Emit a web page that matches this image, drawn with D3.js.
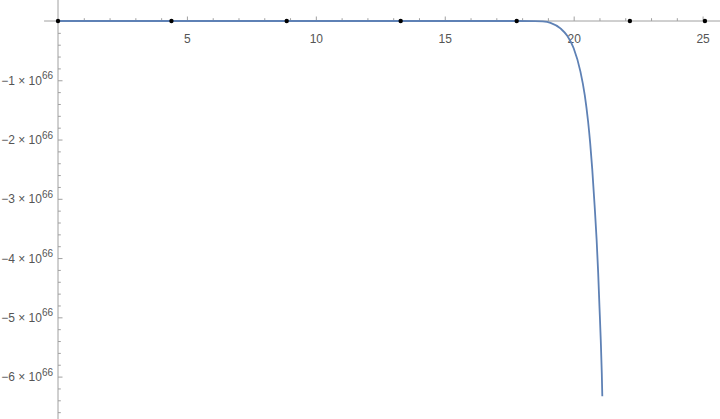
<!DOCTYPE html>
<html>
  <head>
    <meta charset="utf-8">
    <title>Plot</title>
    <script src="https://cdn.jsdelivr.net/npm/d3@7"></script>
    <style>
      body { margin: 0; background: #fff; }
      #chart { display: block; }
      .axis line, .axis path { stroke: #a0a0a0; }
      .label { font-family: "Liberation Sans", Arial, sans-serif; font-size: 12px; fill: #555; }
    </style>
  </head>

  <body>
    <svg id="chart" width="720" height="419">
      <g id="axisGroup">
        <g id="xMinorGroup" class="axis"></g>
        <g id="xAxisGroup" class="axis"></g>
        <g id="yMinorGroup" class="axis"></g>
        <g id="yAxisGroup" class="axis"></g>
      </g>
      <g id="chartGroup"></g>
      <g id="dotGroup"></g>
    </svg>

    <script>
      // data (y values in units of 10^66)
      const curveX = [0, 17.5, 18.5, 18.8, 19.1, 19.5, 19.75, 20.0, 20.26, 20.43, 20.56, 20.64, 20.72, 20.81, 20.89, 20.95, 21.0, 21.05, 21.09, 21.11];
      const curveY = [0, 0, -0.003, -0.008, -0.03, -0.13, -0.25, -0.46, -0.85, -1.25, -1.70, -2.06, -2.5, -3.1, -3.69, -4.25, -4.82, -5.38, -5.94, -6.33];
      const dotX = [0, 4.4, 8.87, 13.29, 17.79, 22.18, 25.09];
      const dotY = [0, 0, 0, 0, 0, 0, 0];
      const xTicks = [5, 10, 15, 20, 25];
      const xMinorTicks = d3.range(1, 26).filter(function(d) { return d % 5 !== 0; });
      const yTicks = [-1, -2, -3, -4, -5, -6];
      const yMinorTicks = d3.range(1, 34).filter(function(d) { return d % 5 !== 0; }).map(function(d) { return -d / 5; });
      const yExponent = "66";

      // page elements
      chart = d3.select("#chart");
      chartGroup = d3.select("#chartGroup");
      dotGroup = d3.select("#dotGroup");
      width = 720;
      height = 419;

      // scales
      x = d3.scaleLinear().domain([0, 25]).range([58, 702.6]);
      y = d3.scaleLinear().domain([0, -6]).range([21, 376.6]);

      // axis lines (axes cross at origin)
      d3.select("#axisGroup").append("line")
        .attr("x1", x(-0.54)).attr("x2", width)
        .attr("y1", y(0)).attr("y2", y(0))
        .attr("stroke", "#a0a0a0");
      d3.select("#axisGroup").append("line")
        .attr("x1", x(0)).attr("x2", x(0))
        .attr("y1", 0).attr("y2", height)
        .attr("stroke", "#a0a0a0");

      // x ticks point up, labels below
      xAxis = d3.axisBottom(x)
        .tickValues(xTicks)
        .tickSizeInner(-4.5)
        .tickSizeOuter(0)
        .tickPadding(13);
      xMinor = d3.axisBottom(x)
        .tickValues(xMinorTicks)
        .tickSizeInner(-2.8)
        .tickSizeOuter(0)
        .tickFormat("");
      d3.select("#xAxisGroup")
        .attr("transform", "translate(0, " + y(0) + ")")
        .call(xAxis)
        .call(function(g) { g.select(".domain").remove(); })
        .selectAll("text")
          .attr("class", "label")
          .attr("fill", null)
          .attr("font-size", null)
          .attr("font-family", null);
      d3.select("#xMinorGroup")
        .attr("transform", "translate(0, " + y(0) + ")")
        .call(xMinor)
        .call(function(g) { g.select(".domain").remove(); });

      // y ticks point right, labels on left
      yAxis = d3.axisRight(y)
        .tickValues(yTicks)
        .tickSizeInner(4.5)
        .tickSizeOuter(0)
        .tickFormat("");
      yMinor = d3.axisRight(y)
        .tickValues(yMinorTicks)
        .tickSizeInner(2.8)
        .tickSizeOuter(0)
        .tickFormat("");
      d3.select("#yAxisGroup")
        .attr("transform", "translate(" + x(0) + ", 0)")
        .call(yAxis)
        .call(function(g) { g.select(".domain").remove(); });
      d3.select("#yMinorGroup")
        .attr("transform", "translate(" + x(0) + ", 0)")
        .call(yMinor)
        .call(function(g) { g.select(".domain").remove(); });

      yLabels = d3.select("#axisGroup").selectAll(".ylabel")
        .data(yTicks)
        .enter().append("text")
          .attr("class", "label ylabel")
          .attr("text-anchor", "end")
          .attr("x", x(0) - 5)
          .attr("y", function(d) { return y(d) + 4.5; });
      yLabels.append("tspan")
        .text(function(d) { return "\u2212" + Math.abs(d) + " \u00d7 10"; });
      yLabels.append("tspan")
        .attr("dy", -5.5)
        .attr("font-size", "10px")
        .text(yExponent);

      // curve
      line = d3.line()
        .x(function(d) { return x(d[0]); })
        .y(function(d) { return y(d[1]); })
        .curve(d3.curveMonotoneX);
      chartGroup.append("path")
        .datum(d3.zip(curveX, curveY))
        .attr("d", line)
        .attr("fill", "none")
        .attr("stroke", "#5e81b5")
        .attr("stroke-width", 1.8);

      // points
      dotGroup.selectAll("circle")
        .data(d3.zip(dotX, dotY))
        .enter().append("circle")
          .attr("cx", function(d) { return x(d[0]); })
          .attr("cy", function(d) { return y(d[1]); })
          .attr("r", 2.2)
          .attr("fill", "#000");
    </script>
  </body>
</html>
